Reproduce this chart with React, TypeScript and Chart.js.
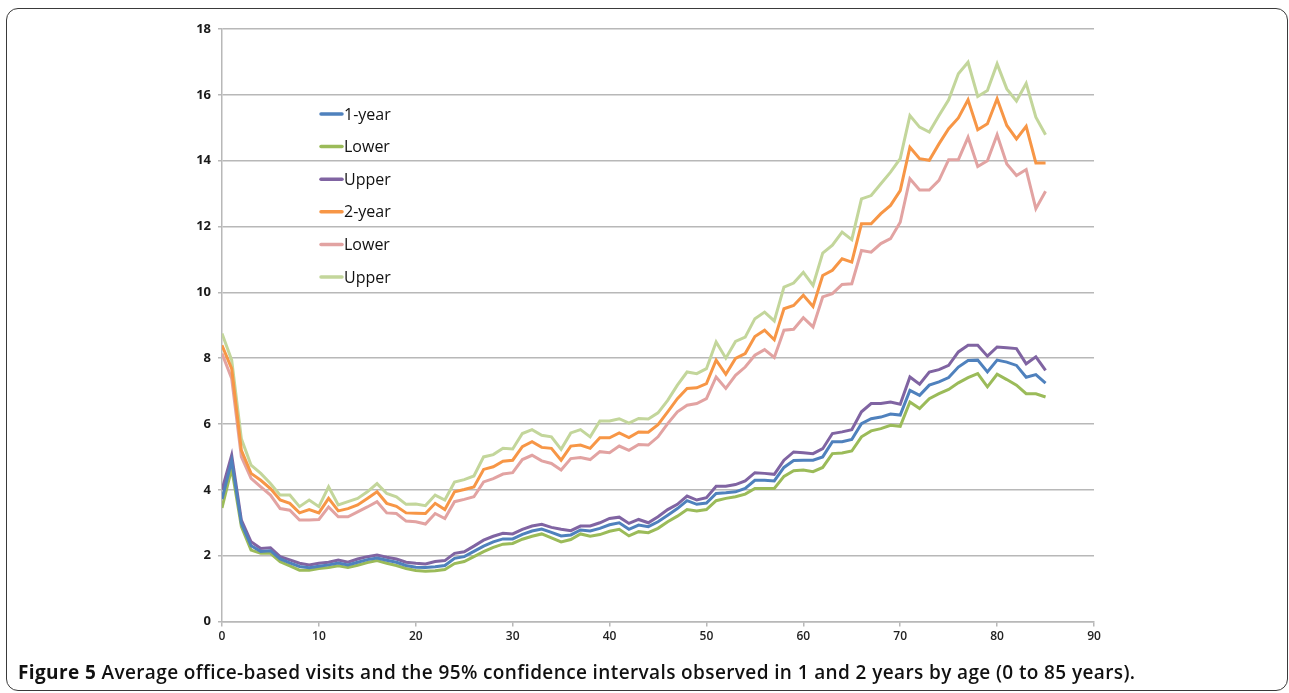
import React, { useEffect, useRef } from "react";
import { Chart, registerables } from "chart.js";

Chart.register(...registerables);

// Age in years (x values)
const AGES = [
  0, 1, 2, 3, 4, 5, 6, 7, 8, 9, 10, 11, 12, 13, 14, 15, 16, 17, 18, 19, 20,
  21, 22, 23, 24, 25, 26, 27, 28, 29, 30, 31, 32, 33, 34, 35, 36, 37, 38, 39, 40,
  41, 42, 43, 44, 45, 46, 47, 48, 49, 50, 51, 52, 53, 54, 55, 56, 57, 58, 59, 60,
  61, 62, 63, 64, 65, 66, 67, 68, 69, 70, 71, 72, 73, 74, 75, 76, 77, 78, 79, 80,
  81, 82, 83, 84, 85,
];

// Average office-based visits observed in 1 year, with 95% CI
const ONE_YEAR = [
  3.72, 4.88, 2.98, 2.3, 2.13, 2.15, 1.9, 1.78, 1.67, 1.63, 1.68, 1.72, 1.78, 1.72, 1.8, 1.88, 1.93, 1.86, 1.8, 1.7, 1.65,
  1.64, 1.66, 1.7, 1.92, 1.97, 2.13, 2.29, 2.42, 2.51, 2.51, 2.65, 2.75, 2.81, 2.71, 2.6, 2.63, 2.78, 2.75, 2.83, 2.94,
  3.0, 2.8, 2.93, 2.88, 3.03, 3.23, 3.43, 3.67, 3.56, 3.6, 3.89, 3.91, 3.94, 4.04, 4.29, 4.29, 4.27, 4.68, 4.89, 4.9,
  4.9, 5.0, 5.46, 5.46, 5.53, 6.01, 6.16, 6.21, 6.3, 6.27, 7.02, 6.87, 7.18, 7.28, 7.41, 7.73, 7.93, 7.94, 7.58, 7.94,
  7.88, 7.78, 7.42, 7.5, 7.24,
];
const ONE_YEAR_LOWER = [
  3.45, 4.65, 2.88, 2.17, 2.07, 2.07, 1.82, 1.69, 1.56, 1.56, 1.61, 1.64, 1.69, 1.64, 1.71, 1.79, 1.85, 1.77, 1.7, 1.61, 1.55,
  1.53, 1.54, 1.58, 1.76, 1.82, 1.97, 2.12, 2.25, 2.35, 2.37, 2.5, 2.59, 2.66, 2.54, 2.42, 2.49, 2.66, 2.59, 2.64, 2.74,
  2.8, 2.6, 2.73, 2.7, 2.83, 3.03, 3.2, 3.4, 3.36, 3.4, 3.67, 3.74, 3.79, 3.87, 4.04, 4.04, 4.04, 4.41, 4.58, 4.6,
  4.55, 4.68, 5.1, 5.12, 5.18, 5.61, 5.79, 5.86, 5.96, 5.93, 6.67, 6.47, 6.77, 6.92, 7.05, 7.25, 7.41, 7.53, 7.13, 7.51,
  7.35, 7.18, 6.92, 6.92, 6.82,
];
const ONE_YEAR_UPPER = [
  4.0, 5.05, 3.08, 2.42, 2.22, 2.24, 1.97, 1.87, 1.77, 1.72, 1.77, 1.8, 1.87, 1.8, 1.9, 1.97, 2.02, 1.95, 1.9, 1.8, 1.77,
  1.75, 1.82, 1.85, 2.07, 2.12, 2.29, 2.47, 2.59, 2.68, 2.66, 2.8, 2.9, 2.95, 2.86, 2.8, 2.76, 2.9, 2.9, 3.0, 3.13,
  3.17, 2.98, 3.1, 3.0, 3.18, 3.4, 3.56, 3.81, 3.69, 3.76, 4.11, 4.11, 4.16, 4.27, 4.52, 4.5, 4.47, 4.9, 5.15, 5.13,
  5.1, 5.25, 5.71, 5.76, 5.83, 6.37, 6.62, 6.62, 6.67, 6.6, 7.43, 7.21, 7.58, 7.65, 7.78, 8.19, 8.39, 8.39, 8.06, 8.34,
  8.32, 8.29, 7.83, 8.04, 7.63,
];

// Average office-based visits observed in 2 years, with 95% CI
const TWO_YEAR = [
  8.39, 7.68, 5.2, 4.5, 4.29, 4.04, 3.69, 3.59, 3.3, 3.4, 3.3, 3.74, 3.36, 3.43, 3.54, 3.74, 3.94, 3.59, 3.5, 3.3, 3.29,
  3.28, 3.59, 3.4, 3.94, 4.01, 4.09, 4.62, 4.7, 4.87, 4.9, 5.31, 5.46, 5.29, 5.26, 4.9, 5.33, 5.36, 5.26, 5.58, 5.58,
  5.73, 5.59, 5.76, 5.75, 5.98, 6.37, 6.77, 7.08, 7.1, 7.23, 7.94, 7.51, 7.99, 8.14, 8.66, 8.85, 8.56, 9.5, 9.6, 9.91,
  9.57, 10.51, 10.67, 11.02, 10.92, 12.08, 12.08, 12.39, 12.64, 13.09, 14.41, 14.06, 14.01, 14.51, 14.97, 15.3, 15.85, 14.94, 15.12, 15.88,
  15.07, 14.66, 15.04, 13.93, 13.93,
];
const TWO_YEAR_LOWER = [
  8.14, 7.38, 5.0, 4.35, 4.09, 3.84, 3.43, 3.38, 3.08, 3.08, 3.1, 3.48, 3.18, 3.18, 3.33, 3.48, 3.64, 3.3, 3.28, 3.05, 3.03,
  2.96, 3.28, 3.13, 3.64, 3.71, 3.79, 4.24, 4.34, 4.48, 4.52, 4.92, 5.05, 4.88, 4.8, 4.6, 4.95, 4.98, 4.92, 5.16, 5.13,
  5.33, 5.2, 5.38, 5.36, 5.61, 6.01, 6.37, 6.57, 6.62, 6.77, 7.43, 7.08, 7.48, 7.73, 8.09, 8.26, 8.02, 8.85, 8.88, 9.23,
  8.95, 9.86, 9.96, 10.24, 10.26, 11.27, 11.22, 11.48, 11.63, 12.13, 13.45, 13.11, 13.11, 13.4, 14.03, 14.03, 14.71, 13.82, 14.0, 14.79,
  13.9, 13.55, 13.73, 12.54, 13.07,
];
const TWO_YEAR_UPPER = [
  8.75, 7.94, 5.55, 4.75, 4.5, 4.19, 3.84, 3.84, 3.49, 3.69, 3.49, 4.09, 3.54, 3.64, 3.74, 3.94, 4.19, 3.89, 3.79, 3.56, 3.57,
  3.52, 3.84, 3.69, 4.24, 4.31, 4.42, 5.0, 5.07, 5.26, 5.24, 5.71, 5.83, 5.66, 5.61, 5.23, 5.73, 5.83, 5.61, 6.09, 6.09,
  6.16, 6.03, 6.17, 6.15, 6.34, 6.72, 7.18, 7.58, 7.53, 7.68, 8.49, 8.0, 8.51, 8.64, 9.2, 9.4, 9.13, 10.16, 10.28, 10.61,
  10.21, 11.19, 11.43, 11.83, 11.6, 12.84, 12.94, 13.3, 13.65, 14.06, 15.37, 15.02, 14.87, 15.37, 15.85, 16.64, 16.99, 15.95, 16.13, 16.94,
  16.18, 15.81, 16.35, 15.32, 14.79,
];

const SERIES_LABELS = ["1-year", "Lower", "Upper", "2-year", "Lower", "Upper"];
const SERIES_VALUES = [ONE_YEAR, ONE_YEAR_LOWER, ONE_YEAR_UPPER, TWO_YEAR, TWO_YEAR_LOWER, TWO_YEAR_UPPER];
const SERIES_COLORS = ["#4f81bd", "#9bbb59", "#8064a2", "#f79646", "#e2a3a2", "#c3d69b"];

const X_TICKS = [0, 10, 20, 30, 40, 50, 60, 70, 80, 90];
const Y_TICKS = [0, 2, 4, 6, 8, 10, 12, 14, 16, 18];

const FONT = "'Open Sans', 'Noto Sans', sans-serif";
const GRID = "#b8b8b8";

// Legend drawn inside the plot area, one line sample + label per dataset
const insetLegend = {
  id: "insetLegend",
  afterDatasetsDraw(chart: any) {
    const ctx = chart.ctx;
    ctx.save();
    ctx.font = `16px ${FONT}`;
    ctx.textBaseline = "middle";
    ctx.textAlign = "left";
    chart.data.datasets.forEach((ds: any, i: number) => {
      const y = 114 + i * 32.6;
      ctx.strokeStyle = ds.borderColor;
      ctx.lineWidth = 3.5;
      ctx.lineCap = "round";
      ctx.beginPath();
      ctx.moveTo(321, y);
      ctx.lineTo(342, y);
      ctx.stroke();
      ctx.fillStyle = "#111";
      ctx.fillText(ds.label, 344, y + 1);
    });
    ctx.restore();
  },
};

export default function App() {
  const canvasRef = useRef<HTMLCanvasElement | null>(null);

  useEffect(() => {
    if (!canvasRef.current) return;
    const chart = new Chart(canvasRef.current, {
      type: "line",
      data: {
        datasets: SERIES_VALUES.map((vals, i) => ({
          label: SERIES_LABELS[i],
          data: AGES.map((a, j) => ({ x: a, y: vals[j] })),
          borderColor: SERIES_COLORS[i],
          backgroundColor: SERIES_COLORS[i],
          borderWidth: 3,
          pointRadius: 0,
          tension: 0,
          fill: false,
        })),
      },
      options: {
        animation: false,
        responsive: false,
        layout: { padding: { left: 0, top: 29, right: 195, bottom: 8.5 } },
        plugins: { legend: { display: false }, tooltip: { enabled: false } },
        scales: {
          x: {
            type: "linear",
            min: 0,
            max: 90,
            afterBuildTicks: (scale: any) => {
              scale.ticks = X_TICKS.map((v) => ({ value: v }));
            },
            afterFit: (scale: any) => {
              scale.height = 30;
            },
            grid: {
              drawOnChartArea: false,
              drawTicks: true,
              tickLength: 5,
              color: GRID,
              lineWidth: 1.5,
            },
            border: { color: GRID, width: 1.5 },
            ticks: {
              padding: 3,
              maxRotation: 0,
              color: "#222",
              font: { family: FONT, size: 12, weight: "600" },
            },
          },
          y: {
            type: "linear",
            min: 0,
            max: 18,
            afterBuildTicks: (scale: any) => {
              scale.ticks = Y_TICKS.map((v) => ({ value: v }));
            },
            afterFit: (scale: any) => {
              scale.width = 222;
            },
            grid: {
              color: GRID,
              lineWidth: 1.5,
              tickLength: 4,
            },
            border: { color: GRID, width: 1.5 },
            ticks: {
              padding: 7,
              color: "#1a1a1a",
              font: { family: FONT, size: 13, weight: "bold" },
            },
          },
        },
      },
      plugins: [insetLegend],
    });
    return () => chart.destroy();
  }, []);

  return (
    <div
      style={{
        position: "absolute",
        left: 0,
        top: 0,
        width: 1289,
        height: 693,
        background: "#fff",
        overflow: "hidden",
      }}
    >
      <div
        style={{
          position: "absolute",
          left: 6,
          top: 8,
          width: 1280,
          height: 681,
          border: "1.5px solid #3a3a3a",
          borderRadius: 12,
        }}
      />
      <canvas
        ref={canvasRef}
        width={1289}
        height={660}
        style={{ position: "absolute", left: 0, top: 0, width: 1289, height: 660 }}
      />
      <div
        style={{
          position: "absolute",
          left: 18,
          top: 659,
          lineHeight: "26px",
          whiteSpace: "nowrap",
          fontFamily: FONT,
          fontSize: 19,
          fontWeight: 600,
          letterSpacing: 0.38,
          color: "#111",
        }}
      >
        <span style={{ fontWeight: 700 }}>Figure 5</span> Average office-based visits and the 95% confidence
        intervals observed in 1 and 2 years by age (0 to 85 years).
      </div>
    </div>
  );
}
